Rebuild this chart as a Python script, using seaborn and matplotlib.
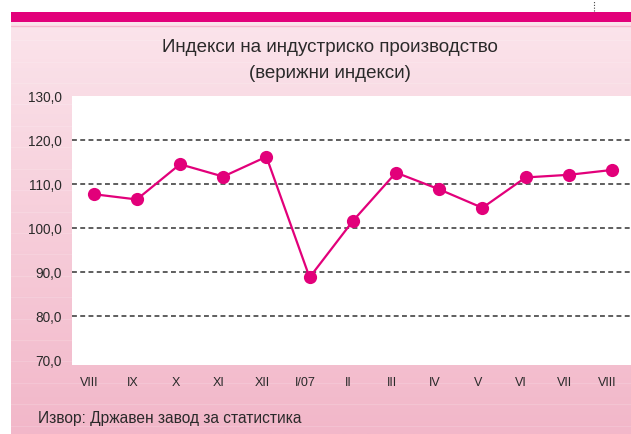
import numpy as np
import pandas as pd
import matplotlib
matplotlib.use("Agg")
import matplotlib.pyplot as plt
import seaborn as sns
from matplotlib.colors import LinearSegmentedColormap

months = ["VIII", "IX", "X", "XI", "XII", "I/07", "II", "III", "IV", "V", "VI", "VII", "VIII"]
values = [107.7, 106.5, 114.5, 111.7, 116.2, 88.8, 101.6, 112.6, 108.8, 104.6, 111.5, 112.1, 113.2]
yticks = [70, 80, 90, 100, 110, 120, 130]
ytick_labels = ["70,0", "80,0", "90,0", "100,0", "110,0", "120,0", "130,0"]
grid_values = [80, 90, 100, 110, 120]

title_1 = "Индекси на индустриско производство"
title_2 = "(верижни индекси)"
source = "Извор: Државен завод за статистика"

sns.set_theme(style="white")
FONT = ["Liberation Sans Narrow", "Liberation Sans", "DejaVu Sans"]
plt.rcParams["font.family"] = FONT

W, H = 631, 434
fig = plt.figure(figsize=(W / 100, H / 100), dpi=100)
fig.patch.set_facecolor("white")

MAG = "#E2007A"
TXT = "#2a2a2a"

# background gradient panel
bg = fig.add_axes([11 / W, 0, (W - 11) / W, (H - 22) / H])
cmap = LinearSegmentedColormap.from_list("pk", ["#FBE4EB", "#F2B7C9"])
grad = np.linspace(0, 1, 256).reshape(-1, 1)
bg.imshow(grad, aspect="auto", cmap=cmap, extent=[0, 1, 0, 1], origin="upper")
for yy in np.arange(0.02, 1, 0.052):
    bg.axhline(yy, color="white", alpha=0.15, lw=0.8)
bg.axhline(1 - 4 / 412, color="#F6B9CC", lw=1)
bg.set_xlim(0, 1); bg.set_ylim(0, 1)
bg.axis("off")

# magenta band
band = fig.add_axes([11 / W, (H - 22) / H, (W - 11) / W, 10 / H])
band.set_facecolor(MAG)
band.set_xticks([]); band.set_yticks([])
for s in band.spines.values():
    s.set_visible(False)

# small dotted line at top right
fig.add_artist(plt.Line2D([594 / W, 594 / W], [(H - 11) / H, 1], color="#444444", lw=0.8,
                          linestyle=(0, (1, 1.5)), transform=fig.transFigure))

# main axes
x0, x1 = 72, 631
y0, y1 = 96, 365
ax = fig.add_axes([x0 / W, (H - y1) / H, (x1 - x0) / W, (y1 - y0) / H])
ax.set_facecolor("white")

df = pd.DataFrame({"pos": np.arange(len(months)), "value": values})
sns.lineplot(data=df, x="pos", y="value", ax=ax, color=MAG, lw=1.6,
             marker="o", markersize=9.5, markeredgewidth=0, markerfacecolor=MAG)

for g in grid_values:
    ax.axhline(g, color="#333333", lw=1.1, linestyle=(0, (3.2, 2.2)), zorder=0)

ax.set_xlim(-0.5, 12.44)
ax.set_ylim(68.9, 130)
ax.set_xticks(np.arange(len(months)) - 0.1)
ax.set_xticklabels(months, fontsize=9, color=TXT)
ax.set_yticks(yticks)
ax.set_yticklabels(ytick_labels, fontsize=9.8, color=TXT)
ax.tick_params(axis="x", length=0, pad=9)
ax.tick_params(axis="y", length=0, pad=7.2)
ax.set_xlabel(""); ax.set_ylabel("")
for s in ax.spines.values():
    s.set_visible(False)

fig.text(330 / W, 1 - 47 / H, title_1, ha="center", va="center", fontsize=13.5, color=TXT)
fig.text(330 / W, 1 - 73 / H, title_2, ha="center", va="center", fontsize=13.5, color=TXT)
fig.text(38 / W, 1 - 419 / H, source, ha="left", va="center", fontsize=11.2, color=TXT)

fig.savefig("out.png", dpi=100, facecolor="white")
